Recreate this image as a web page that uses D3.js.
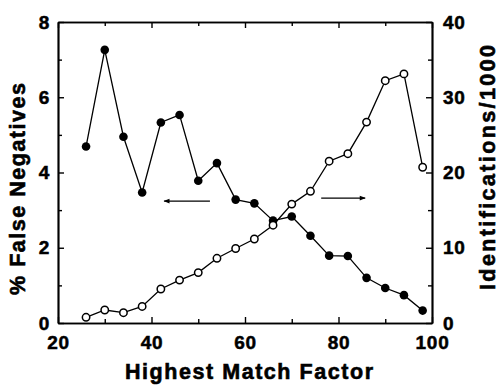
<!DOCTYPE html>
<html><head><meta charset="utf-8">
<script src="https://cdn.jsdelivr.net/npm/d3@7"></script>
<style>body{margin:0;background:#fff}svg{display:block}</style>
</head><body>
<script>
const matchFactor = [26,30,34,38,42,46,50,54,58,62,66,70,74,78,82,86,90,94,98];
const falseNegatives = [4.69,7.26,4.95,3.47,5.33,5.53,3.78,4.25,3.28,3.18,2.72,2.83,2.32,1.79,1.78,1.20,0.93,0.74,0.33];
const identifications = [0.76,1.73,1.37,2.2,4.52,5.7,6.7,8.6,9.9,11.16,13.0,15.8,17.5,21.5,22.5,26.7,32.2,33.1,20.7];
const xMajor = [20,40,60,80,100];
const xMinor = [30,50,70,90];
const yLeftMajor = [0,2,4,6,8];
const yLeftMinor = [1,3,5,7];
const yRightMajor = [0,10,20,30,40];
const yRightMinor = [5,15,25,35];
// arrows: [x1, y1, x2, y2] in data units (left arrow on left axis, right arrow on right axis)
const leftArrow = [52.5, 3.24, 42.7, 3.24];
const rightArrow = [76.3, 16.6, 85.7, 16.6];

const W = 501, H = 385;
const m = {left:58, right:69, top:22, bottom:62};
const svg = d3.select("body").append("svg").attr("width",W).attr("height",H);
const x = d3.scaleLinear().domain([20,100]).range([m.left, W-m.right]);
const yL = d3.scaleLinear().domain([0,8]).range([H-m.bottom, m.top]);
const yR = d3.scaleLinear().domain([0,40]).range([H-m.bottom, m.top]);
const font = "'Liberation Sans', Arial, sans-serif";

svg.append("defs").append("marker").attr("id","ah").attr("viewBox","0 0 10 10")
  .attr("refX",9).attr("refY",5).attr("markerWidth",10).attr("markerHeight",6)
  .attr("markerUnits","userSpaceOnUse").attr("orient","auto")
  .append("path").attr("d","M0,1 L10,5 L0,9 Z").attr("fill","#000");

function styleAxis(g){
  g.select(".domain").attr("stroke","#000").attr("stroke-width",1.7);
  g.selectAll(".tick line").attr("stroke","#000").attr("stroke-width",1.4);
  g.selectAll(".tick text").attr("font-family",font).attr("font-weight","bold").attr("font-size",19)
    .attr("letter-spacing","0.8px").attr("fill","#000").attr("stroke","#000").attr("stroke-width",0.5);
}
const bY = H-m.bottom, tY = m.top, lX = m.left, rX = W-m.right;
// bottom
svg.append("g").attr("transform",`translate(0,${bY})`)
  .call(d3.axisBottom(x).tickValues(xMajor).tickSizeInner(-6).tickSizeOuter(0).tickPadding(13).tickFormat(d3.format("d")))
  .call(styleAxis);
svg.append("g").attr("transform",`translate(0,${bY})`)
  .call(d3.axisBottom(x).tickValues(xMinor).tickSizeInner(-4).tickSizeOuter(0).tickFormat(""))
  .call(styleAxis);
// top
svg.append("g").attr("transform",`translate(0,${tY})`)
  .call(d3.axisTop(x).tickValues(xMajor).tickSizeInner(-6).tickSizeOuter(0).tickFormat(""))
  .call(styleAxis);
svg.append("g").attr("transform",`translate(0,${tY})`)
  .call(d3.axisTop(x).tickValues(xMinor).tickSizeInner(-4).tickSizeOuter(0).tickFormat(""))
  .call(styleAxis);
// left
svg.append("g").attr("transform",`translate(${lX},0)`)
  .call(d3.axisLeft(yL).tickValues(yLeftMajor).tickSizeInner(-6).tickSizeOuter(0).tickPadding(8).tickFormat(d3.format("d")))
  .call(styleAxis);
svg.append("g").attr("transform",`translate(${lX},0)`)
  .call(d3.axisLeft(yL).tickValues(yLeftMinor).tickSizeInner(-4).tickSizeOuter(0).tickFormat(""))
  .call(styleAxis);
// right
svg.append("g").attr("transform",`translate(${rX},0)`)
  .call(d3.axisRight(yR).tickValues(yRightMajor).tickSizeInner(-6).tickSizeOuter(0).tickPadding(11).tickFormat(d3.format("d")))
  .call(styleAxis);
svg.append("g").attr("transform",`translate(${rX},0)`)
  .call(d3.axisRight(yR).tickValues(yRightMinor).tickSizeInner(-4).tickSizeOuter(0).tickFormat(""))
  .call(styleAxis);

// axis titles
function title(sel){
  return sel.attr("text-anchor","middle").attr("font-family",font).attr("font-weight","bold")
    .attr("font-size",21.5).attr("lengthAdjust","spacing").attr("fill","#000")
    .attr("stroke","#000").attr("stroke-width",0.6);
}
svg.append("text").attr("x",(lX+rX)/2+4).attr("y",379).call(title)
  .attr("textLength",248).text("Highest Match Factor");
svg.append("text").attr("transform",`translate(25,189) rotate(-90)`).call(title)
  .attr("textLength",212).text("% False Negatives");
svg.append("text").attr("transform",`translate(494.5,167.5) rotate(-90)`).call(title)
  .attr("textLength",245).text("Identifications/1000");

// series
const fnData = matchFactor.map((d,i)=>[d,falseNegatives[i]]);
const idData = matchFactor.map((d,i)=>[d,identifications[i]]);
svg.append("path").datum(fnData).attr("fill","none").attr("stroke","#000").attr("stroke-width",1.3)
  .attr("d",d3.line().x(d=>x(d[0])).y(d=>yL(d[1])));
svg.append("path").datum(idData).attr("fill","none").attr("stroke","#000").attr("stroke-width",1.3)
  .attr("d",d3.line().x(d=>x(d[0])).y(d=>yR(d[1])));
svg.append("g").selectAll("circle").data(fnData).join("circle")
  .attr("cx",d=>x(d[0])).attr("cy",d=>yL(d[1])).attr("r",4.3).attr("fill","#000");
svg.append("g").selectAll("circle").data(idData).join("circle")
  .attr("cx",d=>x(d[0])).attr("cy",d=>yR(d[1])).attr("r",3.7).attr("fill","#fff").attr("stroke","#000").attr("stroke-width",1.5);

// arrows
svg.append("line").attr("x1",x(leftArrow[0])).attr("y1",yL(leftArrow[1])).attr("x2",x(leftArrow[2])).attr("y2",yL(leftArrow[3]))
  .attr("stroke","#000").attr("stroke-width",1.3).attr("marker-end","url(#ah)");
svg.append("line").attr("x1",x(rightArrow[0])).attr("y1",yR(rightArrow[1])).attr("x2",x(rightArrow[2])).attr("y2",yR(rightArrow[3]))
  .attr("stroke","#000").attr("stroke-width",1.3).attr("marker-end","url(#ah)");
</script>
</body></html>
